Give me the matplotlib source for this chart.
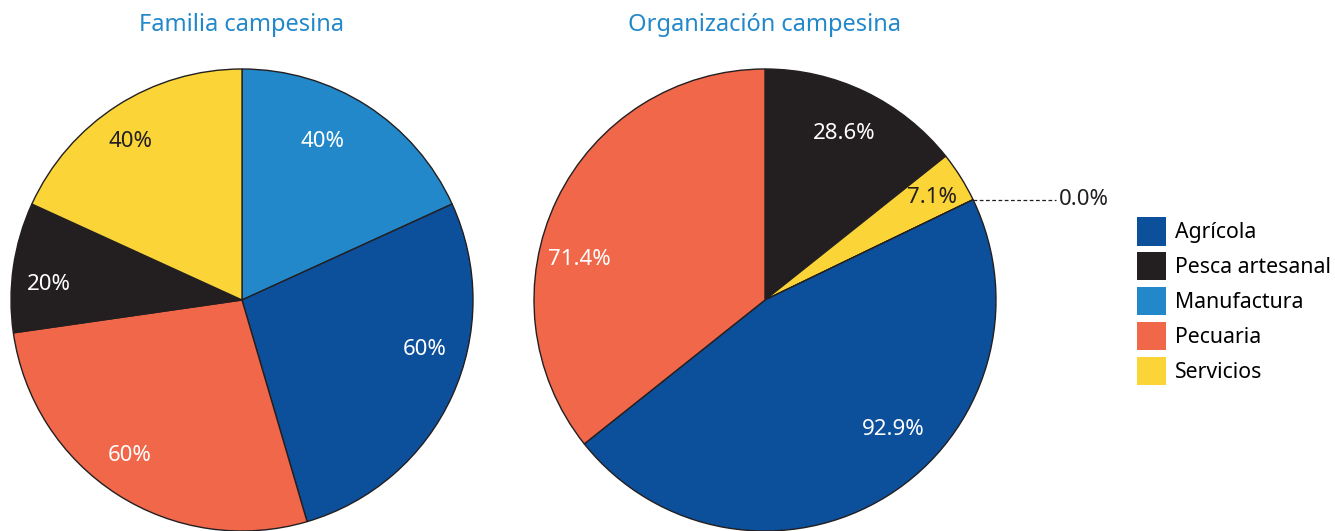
import matplotlib.pyplot as plt
import numpy as np

plt.rcParams['font.family'] = ['Noto Sans', 'DejaVu Sans']

categories = ["Agrícola", "Pesca artesanal", "Manufactura", "Pecuaria", "Servicios"]
colors = {"Agrícola": "#0C4F9B", "Pesca artesanal": "#231F20", "Manufactura": "#2288CA",
          "Pecuaria": "#F1674A", "Servicios": "#FBD538"}

# order clockwise from the top
familia_order = ["Manufactura", "Agrícola", "Pecuaria", "Pesca artesanal", "Servicios"]
familia_vals = [40, 60, 60, 20, 40]
familia_lbls = ["40%", "60%", "60%", "20%", "40%"]

org_order = ["Pesca artesanal", "Servicios", "Manufactura", "Agrícola", "Pecuaria"]
org_vals = [28.6, 7.1, 0.0, 92.9, 71.4]
org_lbls = ["28.6%", "7.1%", "0.0%", "92.9%", "71.4%"]

# label placement (angle deg, radius) per slice
familia_pos = [(63, 0.77), (-15, 0.82), (-126, 0.83), (175.5, 0.84), (125, 0.84)]
org_pos = [(64.5, 0.80), (31.5, 0.85), None, (-45.4, 0.79), (167.8, 0.82)]

W, H = 1335, 531
fig = plt.figure(figsize=(W / 100, H / 100), dpi=100)
title_col = "#2288CA"


def draw(ax, order, vals, lbls, pos, title):
    ax.pie(vals, colors=[colors[c] for c in order], startangle=90, counterclock=False,
           radius=1, wedgeprops=dict(edgecolor="#231F20", linewidth=1.0))
    for c, l, p in zip(order, lbls, pos):
        if p is None:
            continue
        a = np.deg2rad(p[0])
        tc = "#231F20" if c == "Servicios" else "white"
        ax.text(p[1] * np.cos(a), p[1] * np.sin(a), l, color=tc, fontsize=16,
                ha="center", va="center")
    ax.set_xlim(-1, 1)
    ax.set_ylim(-1, 1)
    ax.axis("off")
    ax.text(0, 1.19, title, color=title_col, fontsize=17, ha="center", va="center",
            clip_on=False)


r = 231
ax1 = fig.add_axes([(242 - r) / W, (H - 300 - r) / H, 2 * r / W, 2 * r / H])
draw(ax1, familia_order, familia_vals, familia_lbls, familia_pos, "Familia campesina")

ax2 = fig.add_axes([(765 - r) / W, (H - 300 - r) / H, 2 * r / W, 2 * r / H])
draw(ax2, org_order, org_vals, org_lbls, org_pos, "Organización campesina")

# leader for the zero slice
tot = sum(org_vals)
ang = np.deg2rad(90 - 360 * sum(org_vals[:2]) / tot)
x0, y0 = np.cos(ang), np.sin(ang)
ax2.plot([x0, x0 + 0.36], [y0, y0], color="#231F20", linestyle=(0, (3, 2)), lw=0.9,
         clip_on=False)
ax2.text(x0 + 0.37, y0, org_lbls[2], color="#231F20", fontsize=16, ha="left",
         va="center", clip_on=False)

handles = [plt.Rectangle((0, 0), 1, 1, facecolor=colors[c], edgecolor="none") for c in categories]
fig.legend(handles, categories, loc="upper left", bbox_to_anchor=(1137 / W, 1 - 217 / H),
           frameon=False, fontsize=15.3, handlelength=1.35, handleheight=1.69,
           handletextpad=0.45, labelspacing=0.3, borderpad=0, borderaxespad=0)

fig.savefig("out.png", dpi=100)
